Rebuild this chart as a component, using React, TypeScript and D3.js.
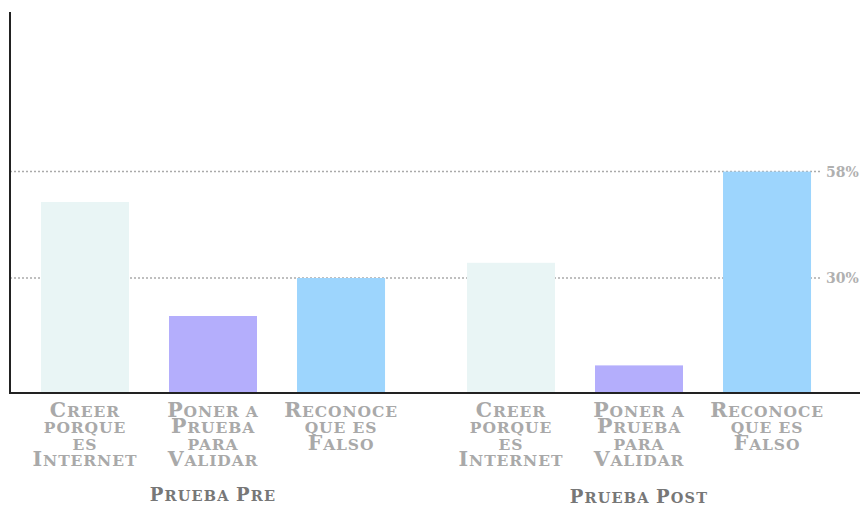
import React from "react";
import * as d3 from "d3";

const groups = ["Prueba Pre", "Prueba Post"];
const categories = ["Creer porque es Internet", "Poner a Prueba para Validar", "Reconoce que es Falso"];
const categoryLines = [
  ["Creer", "porque", "es", "Internet"],
  ["Poner a", "Prueba", "para", "Validar"],
  ["Reconoce", "que es", "Falso"],
];
const preValues = [50, 20, 30];
const postValues = [34, 7, 58];
const refLines = [58, 30];
const refLabels = ["58%", "30%"];
const colors = ["#e9f5f5", "#b4aefc", "#9dd5fd"];

const W = 860;
const H = 506;
const font = "'DejaVu Serif', 'Liberation Serif', serif";

// Render text in a Cinzel-like style: uppercase letters big, lowercase as small caps
function capsParts(s: string, big: number, small: number) {
  const parts: { t: string; size: number }[] = [];
  for (const ch of s) {
    const isUpper = ch !== ch.toLowerCase();
    const size = isUpper ? big : small;
    const last = parts[parts.length - 1];
    if (last && last.size === size) last.t += ch.toUpperCase();
    else parts.push({ t: ch.toUpperCase(), size });
  }
  return parts.map((p, i) => (
    <tspan key={i} fontSize={p.size}>
      {p.t}
    </tspan>
  ));
}

export default function App() {
  const values = [preValues, postValues];
  const x0 = d3.scaleBand<string>().domain(groups).range([0, 852]);
  const x1 = d3
    .scaleBand<string>()
    .domain(categories)
    .range([0, x0.bandwidth()])
    .paddingInner(0.3125)
    .paddingOuter(0.32);
  const y = d3.scaleLinear().domain([0, 100]).range([392, 12]);

  return (
    <svg width={W} height={H} style={{ position: "absolute", left: 0, top: 0 }}>
      {refLines.map((v, i) => (
        <g key={"ref" + i}>
          <line
            x1={10}
            x2={822}
            y1={y(v)}
            y2={y(v)}
            stroke="#aaaaaa"
            strokeWidth={1.5}
            strokeDasharray="2,2"
          />
          <text
            x={826}
            y={y(v) + 5}
            fill="#b0b0b0"
            fontFamily={font}
            fontWeight="bold"
            fontSize={14}
          >
            {refLabels[i]}
          </text>
        </g>
      ))}
      {groups.map((g, gi) => (
        <g key={g} transform={`translate(${x0(g)},0)`}>
          {categories.map((c, ci) => (
            <rect
              key={c}
              x={x1(c)}
              y={y(values[gi][ci])}
              width={x1.bandwidth()}
              height={y(0) - y(values[gi][ci])}
              fill={colors[ci]}
            />
          ))}
          {categories.map((c, ci) =>
            categoryLines[ci].map((ln, li) => (
              <text
                key={"l" + c + li}
                x={(x1(c) as number) + x1.bandwidth() / 2}
                y={417 + li * 16.4}
                textAnchor="middle"
                fill="#a9a9a9"
                fontFamily={font}
                fontWeight="bold"
                letterSpacing={0.9}
              >
                {capsParts(ln, 20.5, 15.5)}
              </text>
            ))
          )}
          <text
            x={x0.bandwidth() / 2}
            y={501 + gi * 2}
            textAnchor="middle"
            fill="#777777"
            fontFamily={font}
            fontWeight="bold"
            letterSpacing={1.2}
          >
            {capsParts(g, 18, 14.5)}
          </text>
        </g>
      ))}
      <line x1={10} x2={10} y1={12} y2={394} stroke="#222" strokeWidth={2} />
      <line x1={9} x2={860} y1={393} y2={393} stroke="#222" strokeWidth={2} />
    </svg>
  );
}
